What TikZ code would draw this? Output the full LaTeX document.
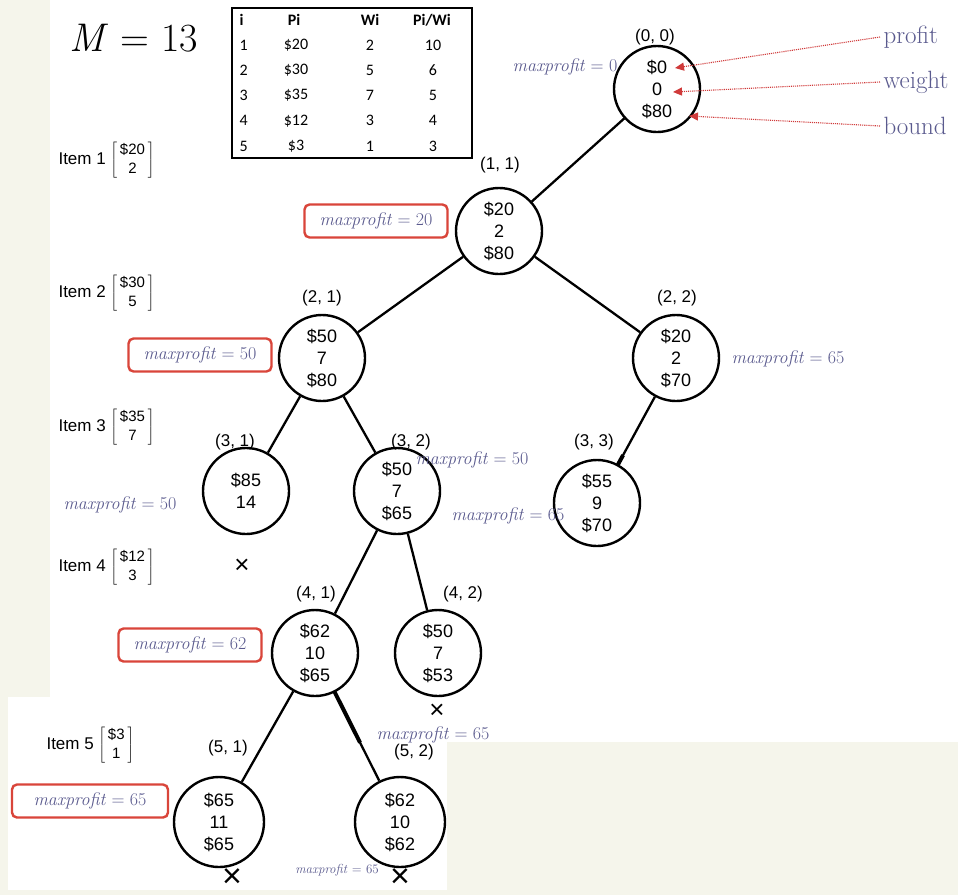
\documentclass[tikz,border=0pt]{standalone}
\usepackage{fontspec}
\setsansfont{Liberation Sans}
\newfontfamily\tabfont{Carlito}
\usetikzlibrary{arrows.meta,calc}
\definecolor{cream}{HTML}{F5F5EB}
\definecolor{slate}{HTML}{5A5A8E}
\definecolor{boxred}{HTML}{D9453A}
\definecolor{arrred}{HTML}{D03A3A}
\newcommand{\mpv}[1]{\textit{maxprofit} = #1}
\newcommand{\itm}[2]{$\left[\begin{tabular}{@{\,}c@{\,}}\fontsize{15}{17}\selectfont\$#1\\\fontsize{15}{17}\selectfont #2\end{tabular}\right]$}

\begin{document}
\begin{tikzpicture}[x=1pt,y=-1pt,
  nd/.style={circle,draw,line width=2.4pt,minimum size=86pt,inner sep=0pt,align=center,font=\sffamily\fontsize{18}{22}\selectfont},
  lb/.style={font=\sffamily\fontsize{17}{19}\selectfont},
  mp/.style={text=slate,font=\fontsize{18}{20}\selectfont},
  mpb/.style={mp,draw=boxred,line width=2.4pt,rounded corners=5pt,minimum width=143pt,minimum height=33pt},
  it/.style={font=\sffamily\fontsize{17}{19}\selectfont,anchor=west},
  an/.style={text=slate,font=\fontsize{25}{27}\selectfont,anchor=west},
  tc/.style={font=\tabfont\fontsize{16}{18}\selectfont},
  th/.style={font=\tabfont\bfseries\fontsize{16}{18}\selectfont},
  ed/.style={line width=2.3pt},
  pa/.style={draw=arrred,densely dotted,line width=1.1pt,-{Triangle[length=9pt,width=8pt]}},
  xm/.style={inner sep=0pt,font=\sffamily\fontsize{26}{26}\selectfont}]
\useasboundingbox (0,0) rectangle (958,895);
% background panels
\fill[cream] (0,0) rectangle (958,895);
\fill[white] (50,0) rectangle (958,742);
\fill[white] (8,697) rectangle (447,890);
% weight limit and item table
\node[font=\fontsize{40}{42}\selectfont] (M) at (134,38) {\textit{M} = 13};
\node[draw,line width=1.2pt,minimum width=240pt,minimum height=150pt,inner sep=0pt] (T) at (352,83) {};
\node[th,anchor=west] (Th1) at (236,20) {i};
\foreach \x/\t [count=\k from 2] in {294/Pi,370/Wi,432/Pi\slash Wi}
  \node[th] (Th\k) at (\x,20) {\t};
\foreach \n/\p/\w/\q [count=\k] in {1/\$20/2/10,2/\$30/5/6,3/\$35/7/5,4/\$12/3/4,5/\$3/1/3}{
  \pgfmathsetmacro\yy{20+25.2*\k}
  \node[tc,anchor=west] (Ti\k) at (236,\yy) {\n};
  \node[tc] (Tp\k) at (296,\yy) {\p};
  \node[tc] (Tw\k) at (370,\yy) {\w};
  \node[tc] (Tq\k) at (433,\yy) {\q};
}
% item labels
\node[it] (I1) at (55,160) {Item 1 \itm{20}{2}};
\node[it] (I2) at (55,293) {Item 2 \itm{30}{5}};
\node[it] (I3) at (55,427) {Item 3 \itm{35}{7}};
\node[it] (I4) at (55,567) {Item 4 \itm{12}{3}};
\node[it] (I5) at (43,745) {Item 5 \itm{3}{1}};
% state nodes
\node[nd] (N00) at (657,89) {\$0\\0\\\$80};
\node[nd] (N11) at (499,231) {\$20\\2\\\$80};
\node[nd] (N21) at (322,358) {\$50\\7\\\$80};
\node[nd] (N22) at (676,358) {\$20\\2\\\$70};
\node[nd] (N31) at (246,491) {\$85\\14};
\node[nd] (N32) at (397,491) {\$50\\7\\\$65};
\node[nd] (N33) at (597,503) {\$55\\9\\\$70};
\node[nd] (N41) at (315,653) {\$62\\10\\\$65};
\node[nd] (N42) at (438,653) {\$50\\7\\\$53};
\node[nd,minimum size=90pt] (N51) at (219,822) {\$65\\11\\\$65};
\node[nd,minimum size=90pt] (N52) at (400,822) {\$62\\10\\\$62};
\foreach \a/\b in {N00/N11,N11/N21,N11/N22,N21/N31,N21/N32,N22/N33,N32/N41,N32/N42,N41/N51,N41/N52}
  \draw[ed] (\a) -- (\b);
\draw[line width=4pt] ($(N33)!0.26!(N22)$) -- ($(N33)!0.33!(N22)$);
\draw[line width=4pt] ($(N41)!0.23!(N52)$) -- ($(N41)!0.53!(N52)$);
% level labels
\node[lb] (L00) at (655,37) {(0, 0)};
\node[lb] (L11) at (500,165) {(1, 1)};
\node[lb] (L21) at (322,298) {(2, 1)};
\node[lb] (L22) at (677,298) {(2, 2)};
\node[lb] (L31) at (235,442) {(3, 1)};
\node[lb] (L32) at (411,442) {(3, 2)};
\node[lb] (L33) at (594,442) {(3, 3)};
\node[lb] (L41) at (316,594) {(4, 1)};
\node[lb] (L42) at (463,594) {(4, 2)};
\node[lb] (L51) at (228,748) {(5, 1)};
\node[lb] (L52) at (414,752) {(5, 2)};
% maxprofit notes
\node[mp] (M00) at (565,67) {\mpv{0}};
\node[mpb] (M11) at (376,221) {\mpv{20}};
\node[mpb] (M21) at (200,355) {\mpv{50}};
\node[mp] (M22) at (788,359) {\mpv{65}};
\node[mp] (M32b) at (508,516) {\mpv{65}};
\node[mp] (M31) at (120,505) {\mpv{50}};
\node[mp] (M32a) at (472,460) {\mpv{50}};
\node[mpb] (M41) at (190,645) {\mpv{62}};
\node[mp] (M42) at (433,735) {\mpv{65}};
\node[mpb,minimum width=156pt] (M51) at (90,801) {\mpv{65}};
\node[mp,font=\fontsize{13}{14}\selectfont] (M52) at (337,870) {\mpv{65}};
% pruned
\node[xm] (X31) at (242,566) {×};
\node[xm] (X42) at (437,711) {×};
\node[xm,font=\sffamily\fontsize{34}{34}\selectfont] (X51) at (232,878) {×};
\node[xm,font=\sffamily\fontsize{34}{34}\selectfont] (X52) at (400,878) {×};
% legend
\node[an] (Ap) at (880,37) {profit};
\node[an] (Aw) at (880,82) {weight};
\node[an] (Ab) at (880,126) {bound};
\coordinate (P0) at (675,68);
\coordinate (W0) at (673,92);
\coordinate (B0) at (689,116);
\draw[pa] (Ap.west) -- (P0);
\draw[pa] (Aw.west) -- (W0);
\draw[pa] (Ab.west) -- (B0);
\end{tikzpicture}
\end{document}
